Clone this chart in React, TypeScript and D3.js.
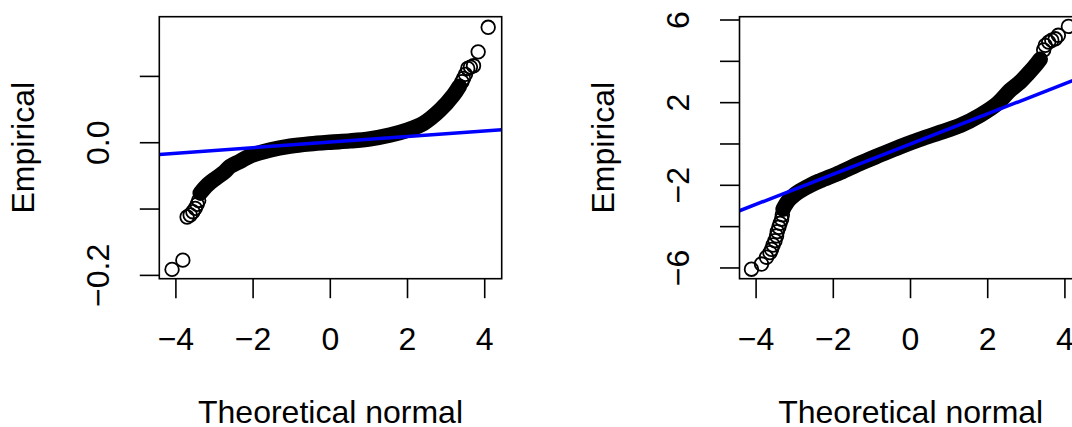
import React from "react";
import * as d3 from "d3";

// ---------- data ----------
const X_TICKS = [-4, -2, 0, 2, 4];

// Left panel
const LEFT_BAND_X = [-3.37, -3.17, -2.95, -2.74, -2.6, -2.34, -2.08, -1.56, -1.04, -0.53, 0, 0.51, 1.03, 1.55, 1.98, 2.41, 2.84, 3.19, 3.34];
const LEFT_BAND_Y = [-0.076, -0.063, -0.053, -0.044, -0.036, -0.028, -0.02, -0.011, -0.0052, -0.0017, 0.0008, 0.0028, 0.0059, 0.0116, 0.0187, 0.029, 0.049, 0.072, 0.085];
const LEFT_TAIL_X = [-4.1, -3.82, -3.71, -3.63, -3.56, -3.5, -3.45, -3.41, 3.41, 3.45, 3.5, 3.56, 3.63, 3.71, 3.83, 4.09];
const LEFT_TAIL_Y = [-0.191, -0.177, -0.112, -0.109, -0.104, -0.099, -0.093, -0.087, 0.092, 0.097, 0.103, 0.112, 0.114, 0.116, 0.137, 0.174];
const LEFT_Y_TICKS = [-0.2, -0.1, 0, 0.1];
const LEFT_Y_LABELS = ["−0.2", "", "0.0", ""];

// Right panel
const RIGHT_BAND_X = [-3.3, -3.17, -3.0, -2.86, -2.6, -2.34, -1.82, -1.31, -0.79, -0.27, 0.25, 0.77, 1.29, 1.81, 2.24, 2.58, 2.84, 3.02, 3.2, 3.36];
const RIGHT_BAND_Y = [-3.15, -2.75, -2.45, -2.27, -2.0, -1.78, -1.38, -0.94, -0.53, -0.13, 0.23, 0.56, 0.9, 1.4, 1.94, 2.6, 3.0, 3.35, 3.72, 4.1];
const RIGHT_TAIL_X = [-4.12, -3.86, -3.73, -3.64, -3.6, -3.56, -3.51, -3.47, -3.45, -3.41, -3.38, -3.34, -3.32, 3.45, 3.49, 3.58, 3.66, 3.75, 3.83, 4.09];
const RIGHT_TAIL_Y = [-6.06, -5.81, -5.48, -5.26, -5.1, -4.89, -4.68, -4.45, -4.24, -4.03, -3.84, -3.64, -3.43, 4.55, 4.77, 4.93, 5.02, 5.09, 5.26, 5.69];
const RIGHT_Y_TICKS = [-6, -4, -2, 0, 2, 4, 6];
const RIGHT_Y_LABELS = ["−6", "", "−2", "", "2", "", "6"];

// reference lines (intercept, slope)
const LINE_INTERCEPTS = [0.001, 0.0];
const LINE_SLOPES = [0.0042, 0.73];

const X_TITLE = "Theoretical normal";
const Y_TITLE = "Empirical";

// ---------- layout ----------
const W = 1072;
const H = 427;
const FONT = "'Liberation Sans', Arial, Helvetica, sans-serif";
const FS = 32;
const BOX_W = 342.4;
const BOX_TOP = 16.7;
const BOX_BOTTOM = 278.7;
const X_DOMAIN: [number, number] = [-4.43, 4.44];

type PanelProps = {
  id: string;
  left: number;
  bandX: number[];
  bandY: number[];
  tailX: number[];
  tailY: number[];
  yDomain: [number, number];
  yTicks: number[];
  yLabels: string[];
  intercept: number;
  slope: number;
};

function Panel(p: PanelProps) {
  const x0 = p.left;
  const x1 = p.left + BOX_W;
  const xs = d3.scaleLinear().domain(X_DOMAIN).range([x0, x1]);
  const ys = d3.scaleLinear().domain(p.yDomain).range([BOX_BOTTOM, BOX_TOP]);
  const band = p.bandX.map((x, i) => [x, p.bandY[i]] as [number, number]);
  const lineGen = d3
    .line<[number, number]>()
    .x((d) => xs(d[0]))
    .y((d) => ys(d[1]))
    .curve(d3.curveCatmullRom.alpha(0.5));
  const refPts: [number, number][] = X_DOMAIN.map((x) => [x, p.intercept + p.slope * x]);
  const refLine = d3
    .line<[number, number]>()
    .x((d) => xs(d[0]))
    .y((d) => ys(d[1]));
  const clipId = `clip-${p.id}`;
  const cx = (x0 + x1) / 2;
  const cy = (BOX_TOP + BOX_BOTTOM) / 2;
  return (
    <g>
      <defs>
        <clipPath id={clipId}>
          <rect x={x0} y={BOX_TOP} width={x1 - x0} height={BOX_BOTTOM - BOX_TOP} />
        </clipPath>
      </defs>
      <g clipPath={`url(#${clipId})`}>
        <path
          d={lineGen(band) || ""}
          fill="none"
          stroke="#000"
          strokeWidth={15.5}
          strokeLinecap="round"
          strokeLinejoin="round"
        />
        {p.tailX.map((x, i) => (
          <circle key={i} cx={xs(x)} cy={ys(p.tailY[i])} r={6.8} fill="none" stroke="#000" strokeWidth={1.8} />
        ))}
        <path d={refLine(refPts) || ""} stroke="#0000FF" strokeWidth={3.5} fill="none" />
      </g>
      <rect x={x0} y={BOX_TOP} width={x1 - x0} height={BOX_BOTTOM - BOX_TOP} fill="none" stroke="#000" strokeWidth={1.6} />
      {X_TICKS.map((t) => (
        <g key={`xt${t}`}>
          <line x1={xs(t)} x2={xs(t)} y1={BOX_BOTTOM} y2={BOX_BOTTOM + 19.5} stroke="#000" strokeWidth={1.6} />
          <text x={xs(t)} y={349.5} textAnchor="middle" fontSize={FS} fontFamily={FONT}>
            {t < 0 ? `−${Math.abs(t)}` : `${t}`}
          </text>
        </g>
      ))}
      {p.yTicks.map((t, i) => (
        <g key={`yt${i}`}>
          <line x1={x0} x2={x0 - 19.5} y1={ys(t)} y2={ys(t)} stroke="#000" strokeWidth={1.6} />
          {p.yLabels[i] ? (
            <text
              transform={`translate(${x0 - 50.5},${ys(t)}) rotate(-90)`}
              textAnchor="middle"
              fontSize={FS}
              fontFamily={FONT}
            >
              {p.yLabels[i]}
            </text>
          ) : null}
        </g>
      ))}
      <text x={cx} y={422.7} textAnchor="middle" fontSize={FS} fontFamily={FONT}>
        {X_TITLE}
      </text>
      <text
        transform={`translate(${x0 - 125.5},${cy}) rotate(-90)`}
        textAnchor="middle"
        fontSize={FS}
        fontFamily={FONT}
      >
        {Y_TITLE}
      </text>
    </g>
  );
}

export default function App() {
  return (
    <svg
      width={W}
      height={H}
      style={{ position: "absolute", left: 0, top: 0, background: "#fff" }}
    >
      <rect x={0} y={0} width={W} height={H} fill="#fff" />
      <Panel
        id="left"
        left={159.3}
        bandX={LEFT_BAND_X}
        bandY={LEFT_BAND_Y}
        tailX={LEFT_TAIL_X}
        tailY={LEFT_TAIL_Y}
        yDomain={[-0.205, 0.19]}
        yTicks={LEFT_Y_TICKS}
        yLabels={LEFT_Y_LABELS}
        intercept={LINE_INTERCEPTS[0]}
        slope={LINE_SLOPES[0]}
      />
      <Panel
        id="right"
        left={739.5}
        bandX={RIGHT_BAND_X}
        bandY={RIGHT_BAND_Y}
        tailX={RIGHT_TAIL_X}
        tailY={RIGHT_TAIL_Y}
        yDomain={[-6.52, 6.16]}
        yTicks={RIGHT_Y_TICKS}
        yLabels={RIGHT_Y_LABELS}
        intercept={LINE_INTERCEPTS[1]}
        slope={LINE_SLOPES[1]}
      />
    </svg>
  );
}
